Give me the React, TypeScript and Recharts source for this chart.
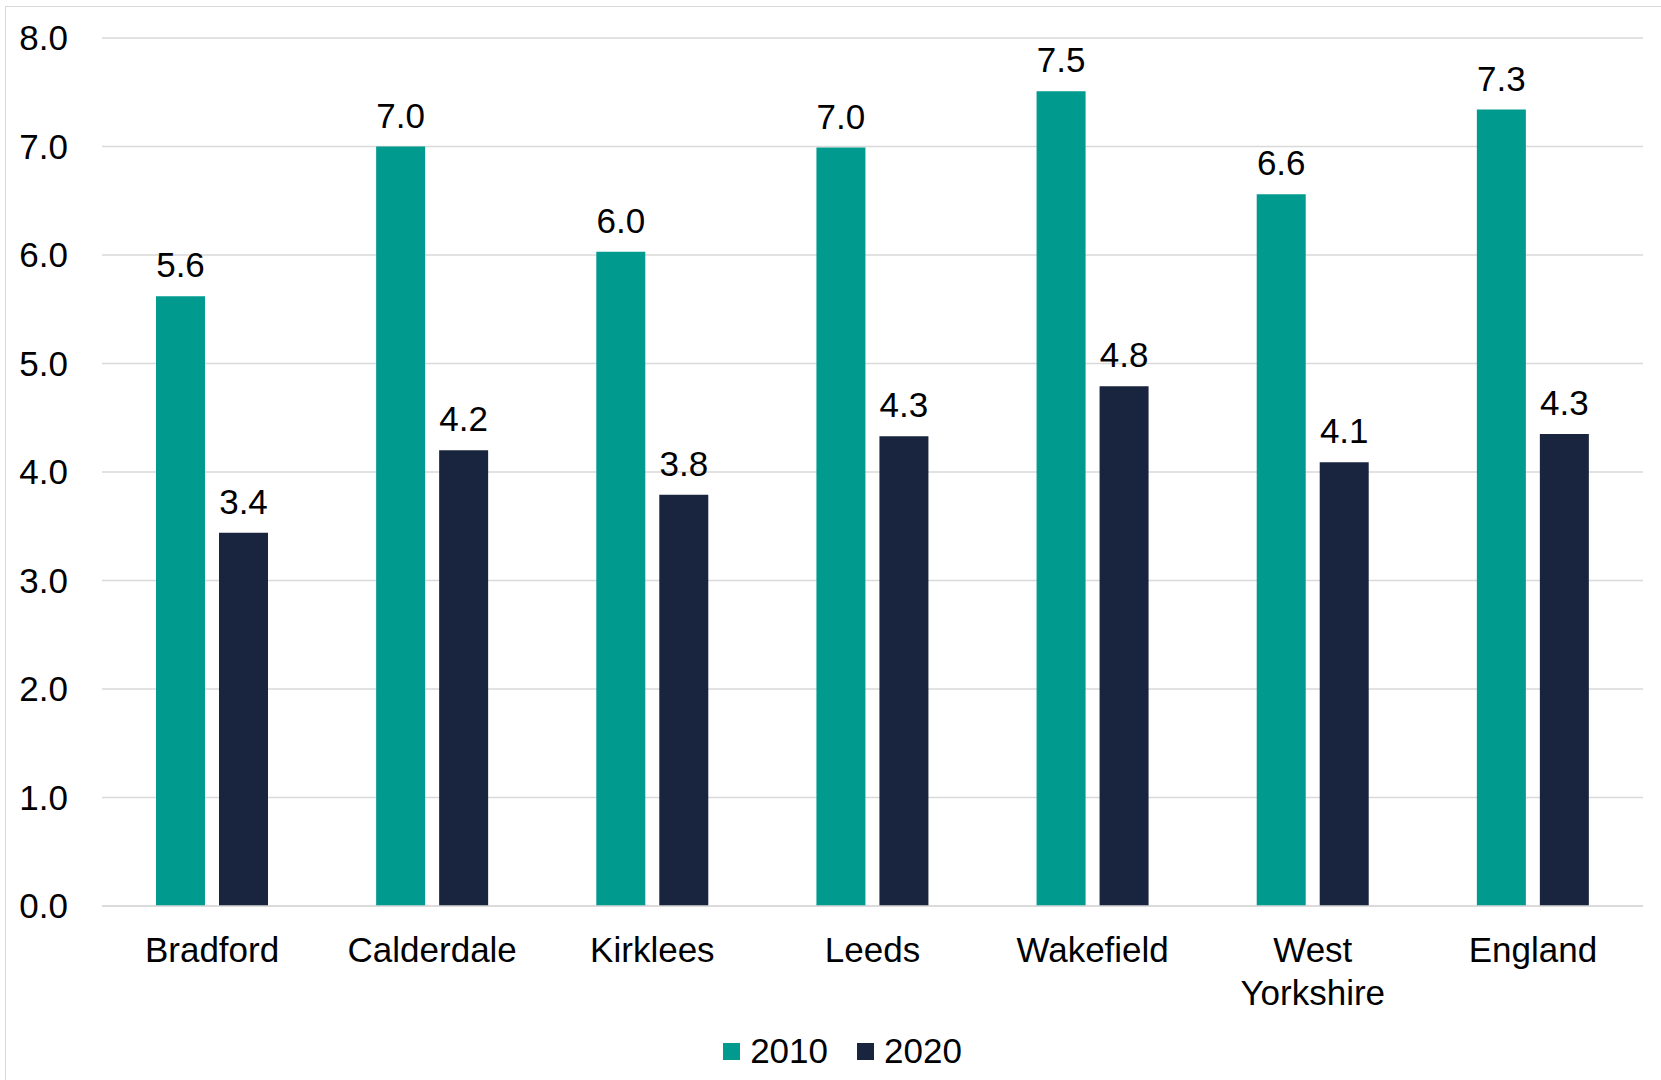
import { BarChart, Bar, XAxis, YAxis, CartesianGrid, Legend, LabelList } from 'recharts';

const areas = ['Bradford', 'Calderdale', 'Kirklees', 'Leeds', 'Wakefield', 'West Yorkshire', 'England'];
const values2010 = [5.62, 7.0, 6.03, 6.99, 7.51, 6.56, 7.34];
const values2020 = [3.44, 4.2, 3.79, 4.33, 4.79, 4.09, 4.35];
const yTicks = [0, 1, 2, 3, 4, 5, 6, 7, 8];

const FONT = '"Liberation Sans", Arial, sans-serif';
const TEAL = '#009A8F';
const NAVY = '#19243E';

function CategoryTick(props: any) {
  const { x, y, payload } = props;
  const lines = String(payload.value).split(' ');
  return (
    <text x={x} y={y} textAnchor="middle" fill="#000" fontSize={35} fontFamily={FONT}>
      {lines.map((line, i) => (
        <tspan key={i} x={x} dy={i === 0 ? 56 : 43}>
          {line}
        </tspan>
      ))}
    </text>
  );
}

function LegendContent(props: any) {
  const { payload = [] } = props;
  return (
    <div
      style={{
        display: 'flex',
        justifyContent: 'center',
        alignItems: 'center',
        gap: 29,
        height: 40,
        position: 'relative',
        top: -5,
        paddingLeft: 42,
        fontFamily: FONT,
        fontSize: 35,
        color: '#000',
      }}
    >
      {payload.map((p: any) => (
        <span key={p.value} style={{ display: 'flex', alignItems: 'center' }}>
          <span style={{ width: 17, height: 17, background: p.color, marginRight: 10, display: 'inline-block' }} />
          {p.value}
        </span>
      ))}
    </div>
  );
}

export default function App() {
  const data = areas.map((name, i) => ({ name, y2010: values2010[i], y2020: values2020[i] }));
  const fmt = (v: any) => Number(v).toFixed(1);

  return (
    <div style={{ position: 'absolute', left: 0, top: 0, width: 1661, height: 1080, background: '#fff' }}>
      <div
        style={{
          position: 'absolute',
          left: 5,
          top: 6,
          right: 0,
          bottom: 0,
          borderLeft: '1.5px solid #d9d9d9',
          borderTop: '1.5px solid #d9d9d9',
        }}
      />
      <BarChart
        width={1661}
        height={1080}
        data={data}
        margin={{ top: 38, right: 18, left: 0, bottom: 4 }}
        barSize={49}
        barGap={14}
      >
        <CartesianGrid vertical={false} stroke="#d9d9d9" strokeWidth={1.5} />
        <XAxis
          dataKey="name"
          axisLine={{ stroke: '#d9d9d9', strokeWidth: 1.5 }}
          tickLine={false}
          tickSize={0}
          tickMargin={0}
          height={130}
          interval={0}
          tick={<CategoryTick />}
        />
        <YAxis
          width={102}
          domain={[0, 8]}
          ticks={yTicks}
          tickFormatter={fmt}
          axisLine={false}
          tickLine={false}
          tickMargin={28}
          tick={{ fill: '#000', fontSize: 35, fontFamily: FONT }}
        />
        <Legend verticalAlign="bottom" content={<LegendContent />} />
        <Bar dataKey="y2010" name="2010" fill={TEAL} isAnimationActive={false}>
          <LabelList dataKey="y2010" position="top" offset={19} formatter={fmt} fill="#000" fontSize={35} fontFamily={FONT} />
        </Bar>
        <Bar dataKey="y2020" name="2020" fill={NAVY} isAnimationActive={false}>
          <LabelList dataKey="y2020" position="top" offset={19} formatter={fmt} fill="#000" fontSize={35} fontFamily={FONT} />
        </Bar>
      </BarChart>
    </div>
  );
}
